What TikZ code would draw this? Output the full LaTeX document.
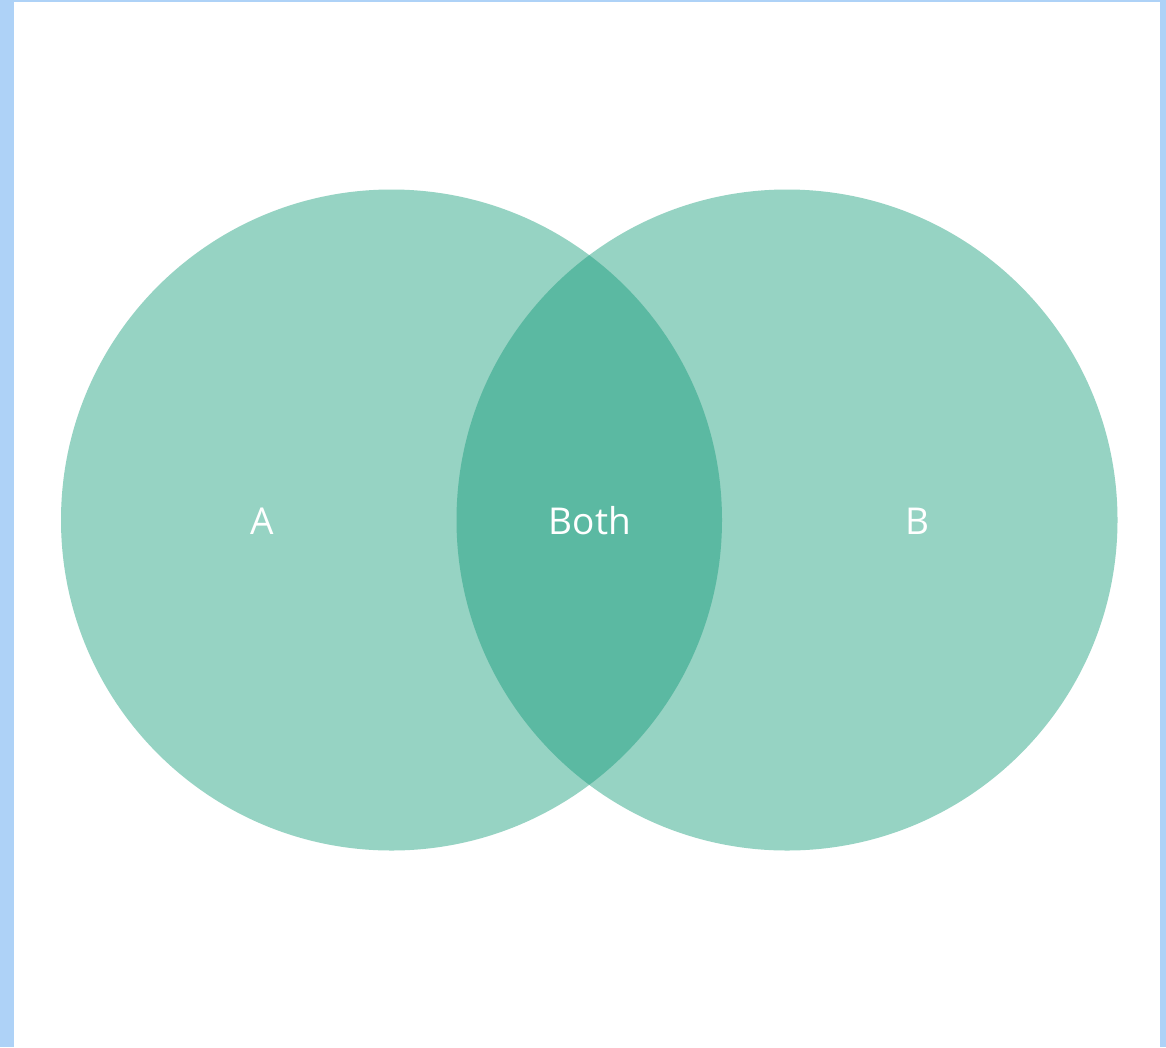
\documentclass[tikz,border=0pt]{standalone}
\usepackage{fontspec}
\setmainfont{Open Sans}
\definecolor{frame}{HTML}{AED2F7}
\definecolor{single}{HTML}{96D3C3}
\definecolor{both}{HTML}{5BB9A2}
\begin{document}
\begin{tikzpicture}[x=1pt,y=-1pt,
  lab/.style={text=white,font=\fontsize{37}{44}\selectfont,inner sep=0pt,anchor=center}]
\useasboundingbox (0,0) rectangle (1166,1047);
\fill[frame] (0,0) rectangle (1166,1047);
\fill[white] (14,2) rectangle (1160,1047);
\fill[single] (391.5,520) circle[radius=330.5];
\fill[single] (787,520) circle[radius=330.5];
\begin{scope}
\clip (391.5,520) circle[radius=330.5];
\fill[both] (787,520) circle[radius=330.5];
\end{scope}
\node[lab] (a) at (262,521) {A};
\node[lab] (both) at (590,521) {Both};
\node[lab] (b) at (917,521) {B};
\end{tikzpicture}
\end{document}
